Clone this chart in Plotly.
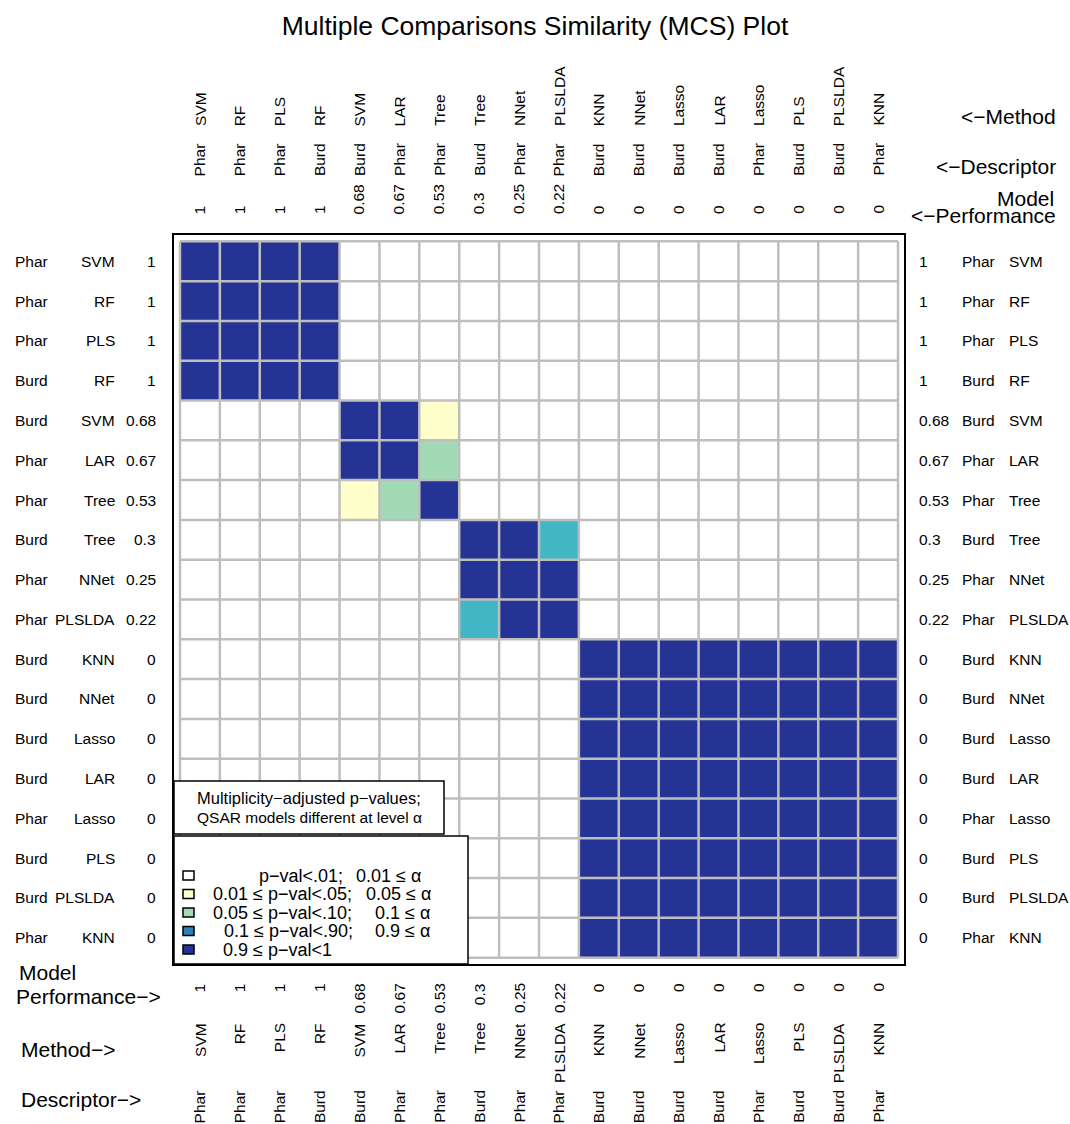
import plotly.graph_objects as go

descriptors = ["Phar", "Phar", "Phar", "Burd", "Burd", "Phar", "Phar", "Burd", "Phar",
               "Phar", "Burd", "Burd", "Burd", "Burd", "Phar", "Burd", "Burd", "Phar"]
methods = ["SVM", "RF", "PLS", "RF", "SVM", "LAR", "Tree", "Tree", "NNet",
           "PLSLDA", "KNN", "NNet", "Lasso", "LAR", "Lasso", "PLS", "PLSLDA", "KNN"]
performance = ["1", "1", "1", "1", "0.68", "0.67", "0.53", "0.3", "0.25",
               "0.22", "0", "0", "0", "0", "0", "0", "0", "0"]

# p-value class of each pair of models, one string per row
# 0: p<.01  1: .01-.05  2: .05-.10  3: .10-.90  4: >=.90
pval_class = [
    "444400000000000000",
    "444400000000000000",
    "444400000000000000",
    "444400000000000000",
    "000044100000000000",
    "000044200000000000",
    "000012400000000000",
    "000000044300000000",
    "000000044400000000",
    "000000034400000000",
    "000000000044444444",
    "000000000044444444",
    "000000000044444444",
    "000000000044444444",
    "000000000044444444",
    "000000000044444444",
    "000000000044444444",
    "000000000044444444",
]

class_colors = ["#ffffff", "#ffffcc", "#a1dab4", "#41b6c4", "#253494"]
legend_colors = ["#ffffff", "#ffffcc", "#a1dab4", "#2c7fb8", "#253494"]
legend_pval = ["p\u2212val<.01;", "0.01 \u2264 p\u2212val<.05;", "0.05 \u2264 p\u2212val<.10;",
               "0.1 \u2264 p\u2212val<.90;", "0.9 \u2264 p\u2212val<1"]
legend_alpha = ["0.01 \u2264 \u03b1", "0.05 \u2264 \u03b1", "0.1 \u2264 \u03b1", "0.9 \u2264 \u03b1", ""]
note_lines = ["Multiplicity\u2212adjusted p\u2212values;", "QSAR models different at level \u03b1"]

W, H = 1070, 1124
L, R, T, B = 174, 166, 235, 160
FONT = "Liberation Sans, Arial, sans-serif"


def fx(x):
    return (x - L) / (W - L - R)


def fy(y):
    return (H - B - y) / (H - T - B)


n = len(methods)
z = [[int(c) for c in row] for row in pval_class]

scale = []
for i, c in enumerate(class_colors):
    scale += [[i / 5, c], [(i + 1) / 5, c]]

fig = go.Figure(go.Heatmap(
    z=z, x=list(range(n)), y=list(range(n)),
    zmin=-0.5, zmax=4.5, colorscale=scale, showscale=False, hoverinfo="skip"
))

shapes = []
for k in range(n + 1):
    shapes.append(dict(type="line", xref="x", yref="y", x0=k - 0.5, x1=k - 0.5, y0=-0.5, y1=n - 0.5,
                       line=dict(color="#bebebe", width=2.5)))
    shapes.append(dict(type="line", xref="x", yref="y", y0=k - 0.5, y1=k - 0.5, x0=-0.5, x1=n - 0.5,
                       line=dict(color="#bebebe", width=2.5)))

# legend boxes
shapes.append(dict(type="rect", xref="paper", yref="paper", x0=fx(174), x1=fx(444), y0=fy(834), y1=fy(781),
                   fillcolor="white", line=dict(color="black", width=1.5)))
shapes.append(dict(type="rect", xref="paper", yref="paper", x0=fx(174), x1=fx(468), y0=fy(964), y1=fy(836),
                   fillcolor="white", line=dict(color="black", width=1.5)))
rows_y = [875.5, 894, 912.5, 931, 949.5]
for yy, col in zip(rows_y, legend_colors):
    shapes.append(dict(type="rect", xref="paper", yref="paper", x0=fx(183), x1=fx(194),
                       y0=fy(yy + 4.5), y1=fy(yy - 4.5), fillcolor=col, line=dict(color="black", width=1.5)))

ann = []


def add(text, x, y, xref="paper", yref="paper", size=15.5, xa="center", ya="middle", angle=0):
    ann.append(dict(text=text, x=x, y=y, xref=xref, yref=yref, showarrow=False, textangle=angle,
                    xanchor=xa, yanchor=ya, borderpad=0, font=dict(family=FONT, size=size, color="black")))


for i in range(n):
    # top
    add(descriptors[i], i, fy(177), xref="x", ya="bottom", angle=-90)
    add(methods[i], i, fy(127), xref="x", ya="bottom", angle=-90)
    add(performance[i], i, fy(215), xref="x", ya="bottom", angle=-90)
    # bottom
    add(performance[i], i, fy(982), xref="x", ya="top", angle=-90)
    add(methods[i], i, fy(1022), xref="x", ya="top", angle=-90)
    add(descriptors[i], i, fy(1089), xref="x", ya="top", angle=-90)
    # left
    add(descriptors[i], fx(14), i, yref="y", xa="left")
    add(methods[i], fx(116), i, yref="y", xa="right")
    add(performance[i], fx(157), i, yref="y", xa="right")
    # right
    add(performance[i], fx(918), i, yref="y", xa="left")
    add(descriptors[i], fx(961), i, yref="y", xa="left")
    add(methods[i], fx(1008), i, yref="y", xa="left")

add("<\u2212Method", fx(1057), fy(116), xa="right", size=21)
add("<\u2212Descriptor", fx(1057), fy(166), xa="right", size=21)
add("Model", fx(1055), fy(198), xa="right", size=21)
add("<\u2212Performance", fx(1057), fy(216), xa="right", size=21)
add("Model", fx(18), fy(972), xa="left", size=21)
add("Performance\u2212>", fx(15), fy(997), xa="left", size=21)
add("Method\u2212>", fx(20), fy(1049), xa="left", size=21)
add("Descriptor\u2212>", fx(20), fy(1099), xa="left", size=21)

add(note_lines[0], fx(196), fy(798), xa="left", size=16.5)
add(note_lines[1], fx(196), fy(817), xa="left", size=15.5)
pval_x = [258, 212, 212, 223, 222]
alpha_x = [355, 365, 374, 374, 0]
for k in range(5):
    add(legend_pval[k], fx(pval_x[k]), fy(rows_y[k]), xa="left", size=18)
    if legend_alpha[k]:
        add(legend_alpha[k], fx(alpha_x[k]), fy(rows_y[k]), xa="left", size=18)

fig.update_layout(
    width=W, height=H,
    margin=dict(l=L, r=R, t=T, b=B),
    paper_bgcolor="white", plot_bgcolor="white",
    title=dict(text="Multiple Comparisons Similarity (MCS) Plot", x=0.5, xanchor="center",
               yref="container", y=1 - 26 / H, yanchor="middle",
               font=dict(family=FONT, size=26.5, color="black")),
    shapes=shapes, annotations=ann,
    font=dict(family=FONT),
)
fig.update_xaxes(range=[-0.65, n - 0.35], showgrid=False, zeroline=False, showticklabels=False,
                 ticks="", showline=True, mirror=True, linecolor="black", linewidth=2)
fig.update_yaxes(range=[n - 0.34, -0.66], showgrid=False, zeroline=False, showticklabels=False,
                 ticks="", showline=True, mirror=True, linecolor="black", linewidth=2)

fig.write_html("out.html", config={"displayModeBar": False},
               post_script="document.body.style.margin='0';")
